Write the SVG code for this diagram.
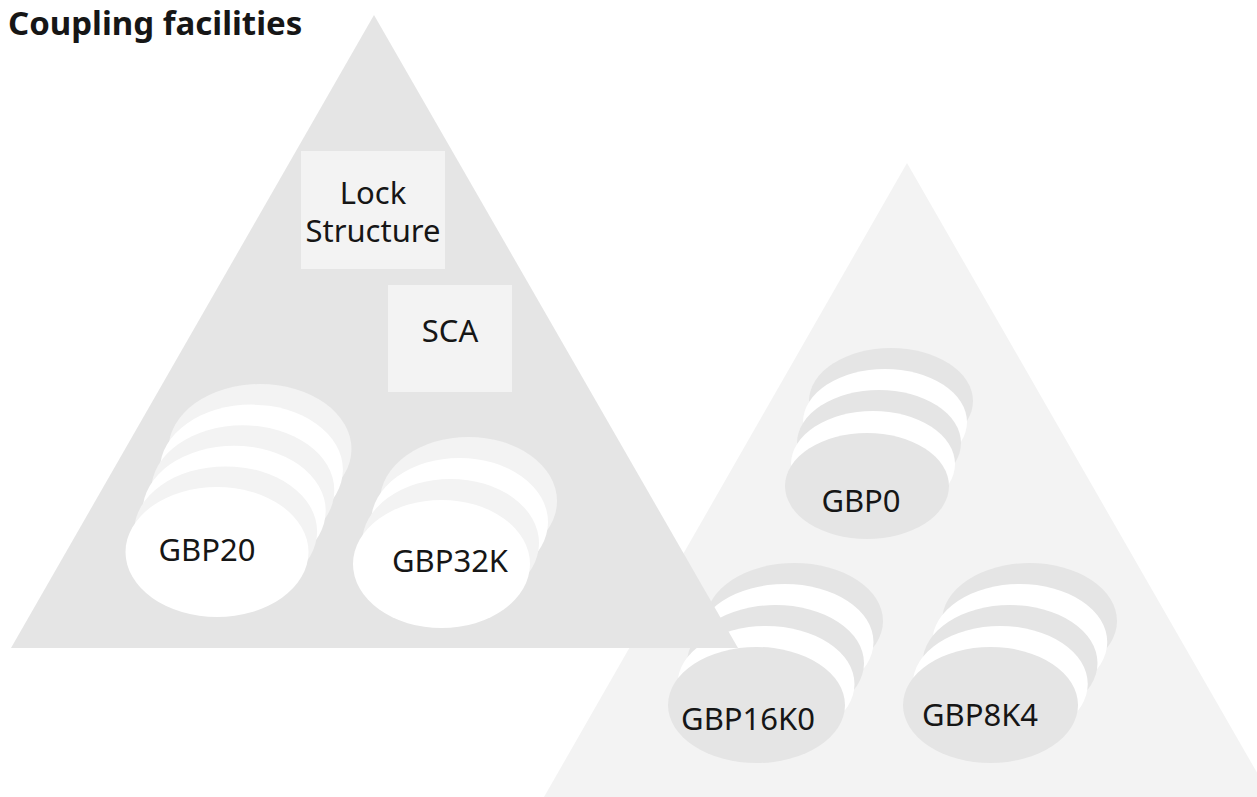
<svg xmlns="http://www.w3.org/2000/svg" width="1257" height="797" viewBox="0 0 1257 797">
<style>
.lbl{font-family:"Noto Sans","Liberation Sans",sans-serif;font-size:31px;fill:#161616}
.title{font-family:"Noto Sans","Liberation Sans",sans-serif;font-size:33px;font-weight:bold;fill:#161616}
.g1{fill:#e5e5e5}
.g0{fill:#f3f3f3}
.w{fill:#ffffff}
</style>
<rect width="1257" height="797" fill="#ffffff"/>
<text class="title" x="8" y="35">Coupling facilities</text>

<g id="cf2">
<polygon class="g0" points="907,163 544,797 1271,797"/>
</g>
<g id="gbp0">
<ellipse class="g1" cx="891" cy="401" rx="82" ry="53"/>
<ellipse class="w" cx="885" cy="422" rx="82" ry="53"/>
<ellipse class="g1" cx="879" cy="443" rx="82" ry="53"/>
<ellipse class="w" cx="873" cy="464" rx="82" ry="53"/>
<ellipse class="g1" cx="867" cy="486" rx="82" ry="53"/>
<text class="lbl" x="861" y="512" text-anchor="middle">GBP0</text>
</g>
<g id="gbp16k0">
<ellipse class="g1" cx="794.5" cy="621" rx="88.5" ry="58"/>
<ellipse class="w" cx="785" cy="642" rx="88.5" ry="58"/>
<ellipse class="g1" cx="775.5" cy="663" rx="88.5" ry="58"/>
<ellipse class="w" cx="766" cy="684" rx="88.5" ry="58"/>
<ellipse class="g1" cx="756.5" cy="705" rx="88.5" ry="58"/>
<text class="lbl" x="748" y="730" text-anchor="middle">GBP16K0</text>
</g>
<g id="gbp8k4">
<ellipse class="g1" cx="1029.5" cy="621" rx="87.5" ry="58"/>
<ellipse class="w" cx="1019.75" cy="642" rx="87.5" ry="58"/>
<ellipse class="g1" cx="1010" cy="663" rx="87.5" ry="58"/>
<ellipse class="w" cx="1000.25" cy="684" rx="87.5" ry="58"/>
<ellipse class="g1" cx="990.5" cy="705" rx="87.5" ry="58"/>
<text class="lbl" x="980" y="726" text-anchor="middle">GBP8K4</text>
</g>

<g id="cf1">
<polygon class="g1" points="374,15 11,648 738,648"/>
</g>
<g id="lock">
<rect class="g0" x="301" y="151" width="144" height="118"/>
<text class="lbl" x="373" y="204" text-anchor="middle">Lock</text>
<text class="lbl" x="373" y="242" text-anchor="middle">Structure</text>
</g>
<g id="sca">
<rect class="g0" x="388" y="285" width="124" height="107"/>
<text class="lbl" x="450" y="342" text-anchor="middle">SCA</text>
</g>
<g id="gbp20">
<ellipse class="g0" cx="260" cy="449" rx="91.5" ry="65"/>
<ellipse class="w" cx="251.4" cy="469.6" rx="91.5" ry="65"/>
<ellipse class="g0" cx="242.8" cy="490.2" rx="91.5" ry="65"/>
<ellipse class="w" cx="234.2" cy="510.8" rx="91.5" ry="65"/>
<ellipse class="g0" cx="225.6" cy="531.4" rx="91.5" ry="65"/>
<ellipse class="w" cx="217" cy="552" rx="91.5" ry="65"/>
<text class="lbl" x="207" y="561" text-anchor="middle">GBP20</text>
</g>
<g id="gbp32k">
<ellipse class="g0" cx="468.5" cy="501" rx="88.5" ry="64"/>
<ellipse class="w" cx="459.5" cy="522" rx="88.5" ry="64"/>
<ellipse class="g0" cx="450.5" cy="543" rx="88.5" ry="64"/>
<ellipse class="w" cx="441.5" cy="564" rx="88.5" ry="64"/>
<text class="lbl" x="450" y="572" text-anchor="middle">GBP32K</text>
</g>
<g id="connectors"></g>
</svg>
